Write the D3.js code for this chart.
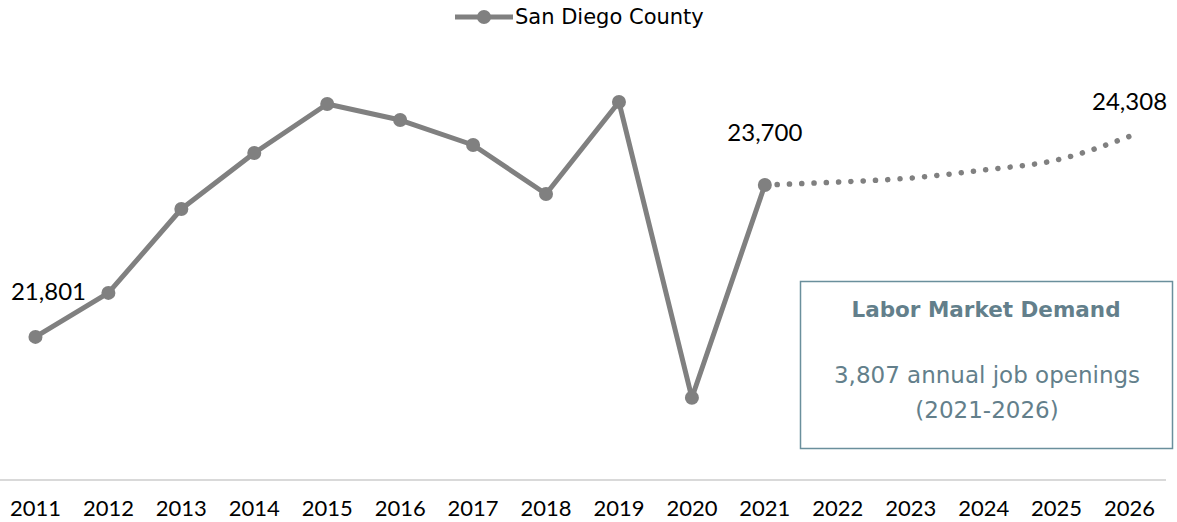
<!DOCTYPE html>
<html>
<head>
<meta charset="utf-8">
<script src="https://cdn.jsdelivr.net/npm/d3@7"></script>
<style>
  body { margin: 0; background: #fff; }
  svg { display: block; font-family: "DejaVu Sans", sans-serif; }
</style>
</head>
<body>
<div id="chart"></div>
<script>
// data
const years = ["2011", "2012", "2013", "2014", "2015", "2016", "2017", "2018",
    "2019", "2020", "2021", "2022", "2023", "2024", "2025", "2026"];
const actualYears = years.slice(0, 11);
const actualValues = [21801, 22351, 23400, 24100, 24712, 24512, 24200, 23588, 24737, 21040, 23700];
const forecastYears = years.slice(10);
const forecastValues = [23700, 23737, 23787, 23887, 24012, 24308];
const labelled = [
    { year: "2011", value: 21801, text: "21,801", dx: 13, dy: -43 },
    { year: "2021", value: 23700, text: "23,700", dx: 0, dy: -50 },
    { year: "2026", value: 24308, text: "24,308", dx: 0, dy: -32 }
];
const seriesName = "San Diego County";
const boxTitle = "Labor Market Demand";
const boxLines = ["3,807 annual job openings", "(2021-2026)"];

const width = 1177, height = 522;
const grey = "#808080";
const boxColor = "#637f8b";

const svg = d3.select("#chart").append("svg")
    .attr("width", width)
    .attr("height", height);

const x = d3.scaleBand()
    .domain(years)
    .range([-1, 1166]);

const y = d3.scaleLinear()
    .domain([20000, 26000])
    .range([481, 1]);

const cx = d => x(d) + x.bandwidth() / 2;

// baseline
svg.append("line")
    .attr("x1", 0)
    .attr("x2", 1166)
    .attr("y1", 480)
    .attr("y2", 480)
    .attr("stroke", "#d9d9d9")
    .attr("stroke-width", 2);

// x labels
const xAxis = svg.append("g")
    .attr("transform", "translate(0,480)")
    .call(d3.axisBottom(x).tickSize(0).tickPadding(20));
xAxis.select(".domain").remove();
xAxis.selectAll("text")
    .attr("font-size", 22)
    .attr("font-family", "Lato, sans-serif")
    .attr("fill", "#000");

// forecast dotted line
const smooth = d3.line()
    .x((d, i) => cx(forecastYears[i]))
    .y(d => y(d))
    .curve(d3.curveMonotoneX);

svg.append("path")
    .datum(forecastValues)
    .attr("d", smooth)
    .attr("fill", "none")
    .attr("stroke", grey)
    .attr("stroke-width", 5.5)
    .attr("stroke-linecap", "round")
    .attr("stroke-dasharray", "0.1 12.2");

// actual line
const line = d3.line()
    .x((d, i) => cx(actualYears[i]))
    .y(d => y(d));

svg.append("path")
    .datum(actualValues)
    .attr("d", line)
    .attr("fill", "none")
    .attr("stroke", grey)
    .attr("stroke-width", 5)
    .attr("stroke-linejoin", "round");

svg.selectAll(".dot")
    .data(actualValues)
    .enter()
    .append("circle")
    .attr("class", "dot")
    .attr("cx", (d, i) => cx(actualYears[i]))
    .attr("cy", d => y(d))
    .attr("r", 7)
    .attr("fill", grey);

// value labels
svg.selectAll(".vlabel")
    .data(labelled)
    .enter()
    .append("text")
    .attr("class", "vlabel")
    .attr("x", d => cx(d.year) + d.dx)
    .attr("y", d => y(d.value) + d.dy)
    .attr("text-anchor", "middle")
    .attr("dominant-baseline", "middle")
    .attr("font-family", "Lato, sans-serif")
    .attr("font-size", 24)
    .attr("fill", "#000")
    .text(d => d.text);

// legend
const legend = svg.append("g");
legend.append("line")
    .attr("x1", 455).attr("x2", 513)
    .attr("y1", 17).attr("y2", 17)
    .attr("stroke", grey)
    .attr("stroke-width", 5);
legend.append("circle")
    .attr("cx", 484).attr("cy", 17)
    .attr("r", 7)
    .attr("fill", grey);
legend.append("text")
    .attr("x", 515).attr("y", 18)
    .attr("dominant-baseline", "middle")
    .attr("font-size", 21)
    .attr("fill", "#000")
    .text(seriesName);

// info box
const box = svg.append("g");
box.append("rect")
    .attr("x", 800.5).attr("y", 281.5)
    .attr("width", 372).attr("height", 167)
    .attr("fill", "#fff")
    .attr("stroke", "#6a8f9c")
    .attr("stroke-width", 1.5);
box.append("text")
    .attr("x", 986).attr("y", 311)
    .attr("text-anchor", "middle")
    .attr("dominant-baseline", "middle")
    .attr("font-size", 21.5)
    .attr("font-weight", "bold")
    .attr("fill", boxColor)
    .text(boxTitle);
box.selectAll(".bline")
    .data(boxLines)
    .enter()
    .append("text")
    .attr("class", "bline")
    .attr("x", 987)
    .attr("y", (d, i) => 376 + i * 35)
    .attr("text-anchor", "middle")
    .attr("dominant-baseline", "middle")
    .attr("font-size", 23)
    .attr("fill", boxColor)
    .text(d => d);
</script>
</body>
</html>
